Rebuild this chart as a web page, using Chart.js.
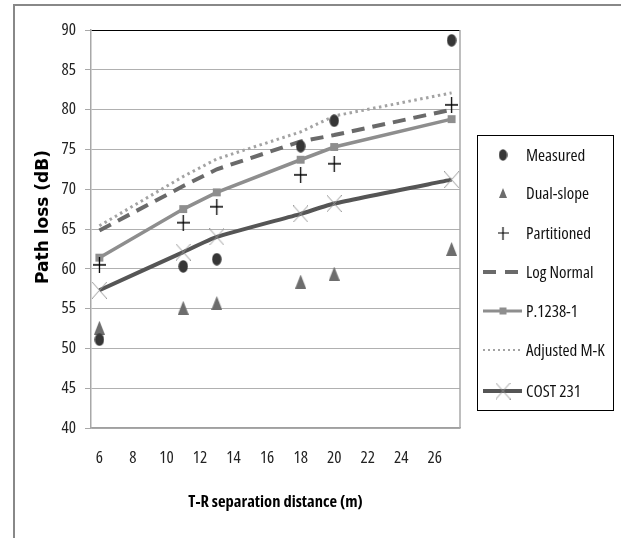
<!DOCTYPE html>
<html><head><meta charset="utf-8">
<script src="https://cdn.jsdelivr.net/npm/chart.js@4/dist/chart.umd.min.js"></script>
<style>html,body{margin:0;padding:0;background:#fff}canvas{display:block}</style>
</head><body>
<canvas id="c" width="621" height="538"></canvas>
<script>
// ---- data ----
const distances   = [6, 11, 13, 18, 20, 27];
const measured    = [51.1, 60.3, 61.2, 75.4, 78.6, 88.7];
const dualSlope   = [52.6, 55.1, 55.7, 58.4, 59.4, 62.5];
const partitioned = [60.5, 65.8, 67.8, 71.8, 73.2, 80.6];
const logNormal   = [64.8, 70.4, 72.5, 76.0, 76.8, 80.0];
const p1238       = [61.4, 67.5, 69.6, 73.7, 75.3, 78.8];
const adjustedMK  = [65.4, 71.6, 73.8, 77.2, 79.2, 82.1];
const cost231     = [57.3, 62.1, 64.0, 66.9, 68.2, 71.2];
const seriesNames = ['Measured', 'Dual-slope', 'Partitioned', 'Log Normal', 'P.1238-1', 'Adjusted M-K', 'COST 231'];
const xTickValues = [6, 8, 10, 12, 14, 16, 18, 20, 22, 24, 26];
const yTickValues = [40, 45, 50, 55, 60, 65, 70, 75, 80, 85, 90];
const xTitle = 'T-R separation distance (m)';
const yTitle = 'Path loss (dB)';

const NARROW = "'Open Sans', 'Roboto Condensed', sans-serif";
const WIDE = "'DejaVu Sans', Verdana, sans-serif";

function pts(arr) { return distances.map((d, i) => ({x: d, y: arr[i]})); }

function mk(w, h, draw) {
  const c = document.createElement('canvas'); c.width = w; c.height = h;
  draw(c.getContext('2d'), w, h); return c;
}
const ellipseImg = (w, h, col) => mk(w, h, (g) => { g.fillStyle = col; g.beginPath(); g.ellipse(w/2, h/2, w/2 - 0.3, h/2 - 0.3, 0, 0, Math.PI*2); g.fill(); });
const triImg = (w, h, col) => mk(w, h, (g) => { g.fillStyle = col; g.beginPath(); g.moveTo(w/2, 0); g.lineTo(w, h); g.lineTo(0, h); g.closePath(); g.fill(); });
const plusImg = (w, h, col, lw) => mk(w, h, (g) => { g.strokeStyle = col; g.lineWidth = lw; g.beginPath(); g.moveTo(0, h/2); g.lineTo(w, h/2); g.moveTo(w/2, 0); g.lineTo(w/2, h); g.stroke(); });
const xImg = (w, h, col, lw) => mk(w, h, (g) => { g.strokeStyle = col; g.lineWidth = lw; g.beginPath(); g.moveTo(0, 0); g.lineTo(w, h); g.moveTo(w, 0); g.lineTo(0, h); g.stroke(); });

const imgMeasured = ellipseImg(10, 13, '#363636');
const imgDual = triImg(11, 14, '#6d6d6d');
const imgPlus = plusImg(13, 16, '#000', 1.3);
const imgX = xImg(15, 17, '#9a9a9a', 1);
const legMeasured = ellipseImg(9, 12, '#363636');
const legDual = triImg(8, 10, '#6d6d6d');
const legPlus = plusImg(11, 13, '#000', 1.2);

const datasets = [
  {label: seriesNames[0], data: pts(measured), showLine: false, pointStyle: imgMeasured, pointRadius: 6},
  {label: seriesNames[1], data: pts(dualSlope), showLine: false, pointStyle: imgDual, pointRadius: 6},
  {label: seriesNames[2], data: pts(partitioned), showLine: false, pointStyle: imgPlus, pointRadius: 7},
  {label: seriesNames[3], data: pts(logNormal), showLine: true, borderColor: '#6a6a6a', borderWidth: 4, borderDash: [13, 8], pointRadius: 0},
  {label: seriesNames[4], data: pts(p1238), showLine: true, borderColor: '#8e8e8e', borderWidth: 3.5, pointStyle: 'rect', pointRadius: 5.6, pointBackgroundColor: '#8e8e8e', pointBorderColor: '#8e8e8e', pointBorderWidth: 0},
  {label: seriesNames[5], data: pts(adjustedMK), showLine: true, borderColor: '#a3a3a3', borderWidth: 3, borderDash: [2.5, 3.5], pointRadius: 0},
  {label: seriesNames[6], data: pts(cost231), showLine: true, borderColor: '#555555', borderWidth: 4, tension: 0.15, pointStyle: imgX, pointRadius: 8}
];

const framePlugin = {
  id: 'frame',
  beforeDraw(chart) {
    const g = chart.ctx; g.save(); g.fillStyle = '#fff'; g.fillRect(0, 0, chart.width, chart.height); g.restore();
  },
  afterDraw(chart) {
    const g = chart.ctx, a = chart.chartArea;
    g.save();
    g.strokeStyle = '#888'; g.lineWidth = 2;
    g.beginPath(); g.moveTo(14, 538); g.lineTo(14, 5); g.lineTo(621, 5); g.stroke();
    g.strokeStyle = '#a8a8a8'; g.lineWidth = 1.5;
    g.beginPath(); g.moveTo(a.right, a.top); g.lineTo(a.right, a.bottom); g.stroke();
    // y axis title
    g.save();
    g.translate(44, 217); g.rotate(-Math.PI / 2);
    g.font = "bold 17px " + WIDE; g.fillStyle = '#000'; g.textAlign = 'center'; g.textBaseline = 'middle';
    g.fillText(yTitle, 0, 0);
    g.restore();
    // legend
    const bx = 477, by = 135, bw = 136, bh = 275;
    g.strokeStyle = '#000'; g.lineWidth = 1;
    g.strokeRect(bx + 0.5, by + 0.5, bw, bh);
    const ys = [155, 193, 233, 272, 311, 350, 391];
    const sx = 503, l0 = 483, l1 = 522, tx = 526;
    g.font = "condensed 17px " + NARROW;
    g.textBaseline = 'middle'; g.textAlign = 'left';
    seriesNames.forEach((n, i) => {
      const y = ys[i];
      if (i === 0) g.drawImage(legMeasured, sx - 4.5, y - 6);
      if (i === 1) g.drawImage(legDual, sx - 4, y - 5);
      if (i === 2) g.drawImage(legPlus, sx - 5.5, y - 6.5);
      if (i === 3) { g.strokeStyle = '#6a6a6a'; g.lineWidth = 4; g.setLineDash([13, 9]); g.beginPath(); g.moveTo(l0, y); g.lineTo(l1, y); g.stroke(); g.setLineDash([]); }
      if (i === 4) { g.strokeStyle = '#8e8e8e'; g.lineWidth = 3; g.beginPath(); g.moveTo(l0, y); g.lineTo(l1, y); g.stroke(); g.fillStyle = '#8e8e8e'; g.fillRect(sx - 3.5, y - 3.5, 7, 7); }
      if (i === 5) { g.strokeStyle = '#a3a3a3'; g.lineWidth = 2; g.setLineDash([2, 3]); g.beginPath(); g.moveTo(l0, y); g.lineTo(l1, y); g.stroke(); g.setLineDash([]); }
      if (i === 6) { g.strokeStyle = '#555'; g.lineWidth = 4; g.beginPath(); g.moveTo(l0, y); g.lineTo(l1, y); g.stroke(); g.drawImage(imgX, sx - 7.5, y - 8.5); }
      g.fillStyle = '#111';
      g.fillText(n, tx, y + 1);
    });
    g.restore();
  }
};

new Chart(document.getElementById('c'), {
  type: 'scatter',
  data: {datasets},
  plugins: [framePlugin],
  options: {
    responsive: false,
    animation: false,
    events: [],
    layout: {padding: {left: 0, right: 161, top: 30, bottom: 0}},
    plugins: {legend: {display: false}, tooltip: {enabled: false}},
    scales: {
      x: {
        type: 'linear', min: 5.5, max: 27.5,
        afterFit(s) { s.height = 110; },
        afterBuildTicks(s) { s.ticks = xTickValues.map(v => ({value: v})); },
        grid: {display: false, drawTicks: false},
        border: {display: true, color: '#a0a0a0', width: 1.5},
        ticks: {padding: 20, color: '#222', font: {family: NARROW, size: 17, weight: 'condensed'}, maxRotation: 0, autoSkip: false},
        title: {display: true, text: xTitle, color: '#000', font: {family: NARROW, size: 16.5, weight: 'condensed bold'}, padding: {top: 0, bottom: 26}}
      },
      y: {
        type: 'linear', min: 40, max: 90,
        afterFit(s) { s.width = 91; },
        afterBuildTicks(s) { s.ticks = yTickValues.map(v => ({value: v})); },
        grid: {color: (c) => (c.tick && c.tick.value === 90 ? '#000' : '#b0b0b0'), tickColor: '#a8a8a8', tickLength: 6, lineWidth: 1},
        border: {display: true, color: '#a8a8a8', width: 1.5},
        ticks: {padding: 9, color: '#222', font: {family: NARROW, size: 17, weight: 'condensed'}, autoSkip: false},
        title: {display: false}
      }
    }
  }
});
</script>
</body></html>
